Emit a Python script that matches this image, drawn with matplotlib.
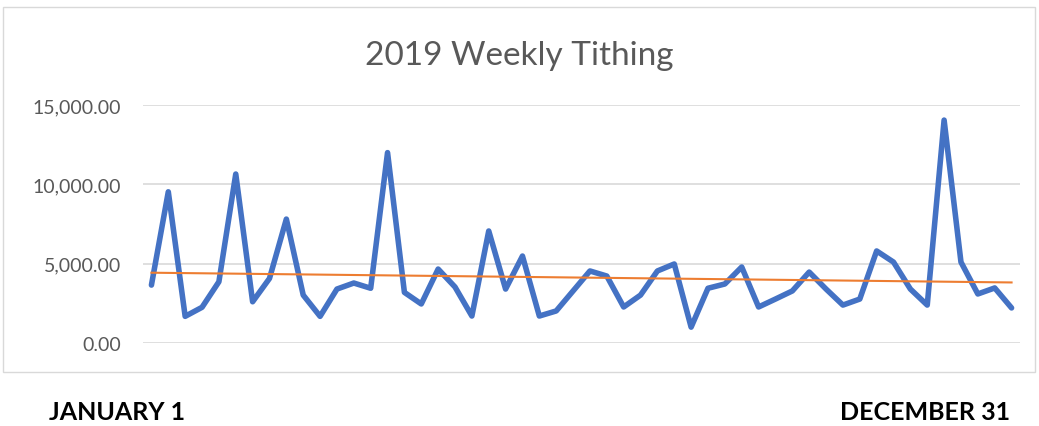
import numpy as np
import matplotlib.pyplot as plt
from matplotlib.patches import Rectangle
from matplotlib.ticker import FuncFormatter

# weekly tithing, 52 weeks of 2019
weeks = np.arange(52)
tithing = [3650, 9530, 1680, 2250, 3860, 10650, 2600, 4070, 7810, 3020,
           1680, 3400, 3780, 3450, 12000, 3190, 2460, 4660, 3530, 1700,
           7060, 3400, 5480, 1700, 2020, 3280, 4540, 4220, 2270, 3020,
           4540, 4980, 1000, 3450, 3720, 4790, 2270, 2770, 3280, 4470,
           3400, 2390, 2770, 5800, 5100, 3400, 2390, 14050, 5100, 3090,
           3470, 2210]
yticks = [0, 5000, 10000, 15000]

fig = plt.figure(figsize=(10.39, 4.27), dpi=100)
ax = fig.add_axes([143/1039, 1 - 344/427, 877/1039, 238/427])

# linear trendline
slope, icpt = np.polyfit(weeks, tithing, 1)
ax.plot(weeks, tithing, color='#4472C4', lw=4, solid_joinstyle='round',
        solid_capstyle='round', zorder=3)
ax.plot(weeks, slope * weeks + icpt, color='#ED7D31', lw=1.5, zorder=4)

ax.set_xlim(-0.5, 51.5)
ax.set_ylim(0, 15000)
ax.set_yticks(yticks)
ax.yaxis.set_major_formatter(FuncFormatter(lambda v, p: f'{v:,.2f}'))
ax.set_xticks([])
ax.grid(axis='y', color='#D9D9D9', lw=1.2)
ax.set_axisbelow(True)
for s in ax.spines.values():
    s.set_visible(False)
ax.tick_params(axis='y', length=0, pad=16, labelsize=14, labelcolor='#595959')
for t in ax.get_yticklabels():
    t.set_fontfamily('Lato')

fig.text(0.5, 1 - 65/427, '2019 Weekly Tithing', ha='center', va='baseline',
         fontsize=24, color='#595959', family='Lato')
fig.text(49/1039, 1 - 420/427, 'JANUARY 1', ha='left', va='baseline',
         fontsize=18, fontweight='bold', family='Lato')
fig.text(1010/1039, 1 - 420/427, 'DECEMBER 31', ha='right', va='baseline',
         fontsize=18, fontweight='bold', family='Lato')

# chart border
fig.add_artist(Rectangle((3/1039, 1 - 373/427), 1032/1039, 365/427,
                         transform=fig.transFigure, fill=False,
                         edgecolor='#D9D9D9', lw=1))

fig.savefig('out.png', dpi=100)
